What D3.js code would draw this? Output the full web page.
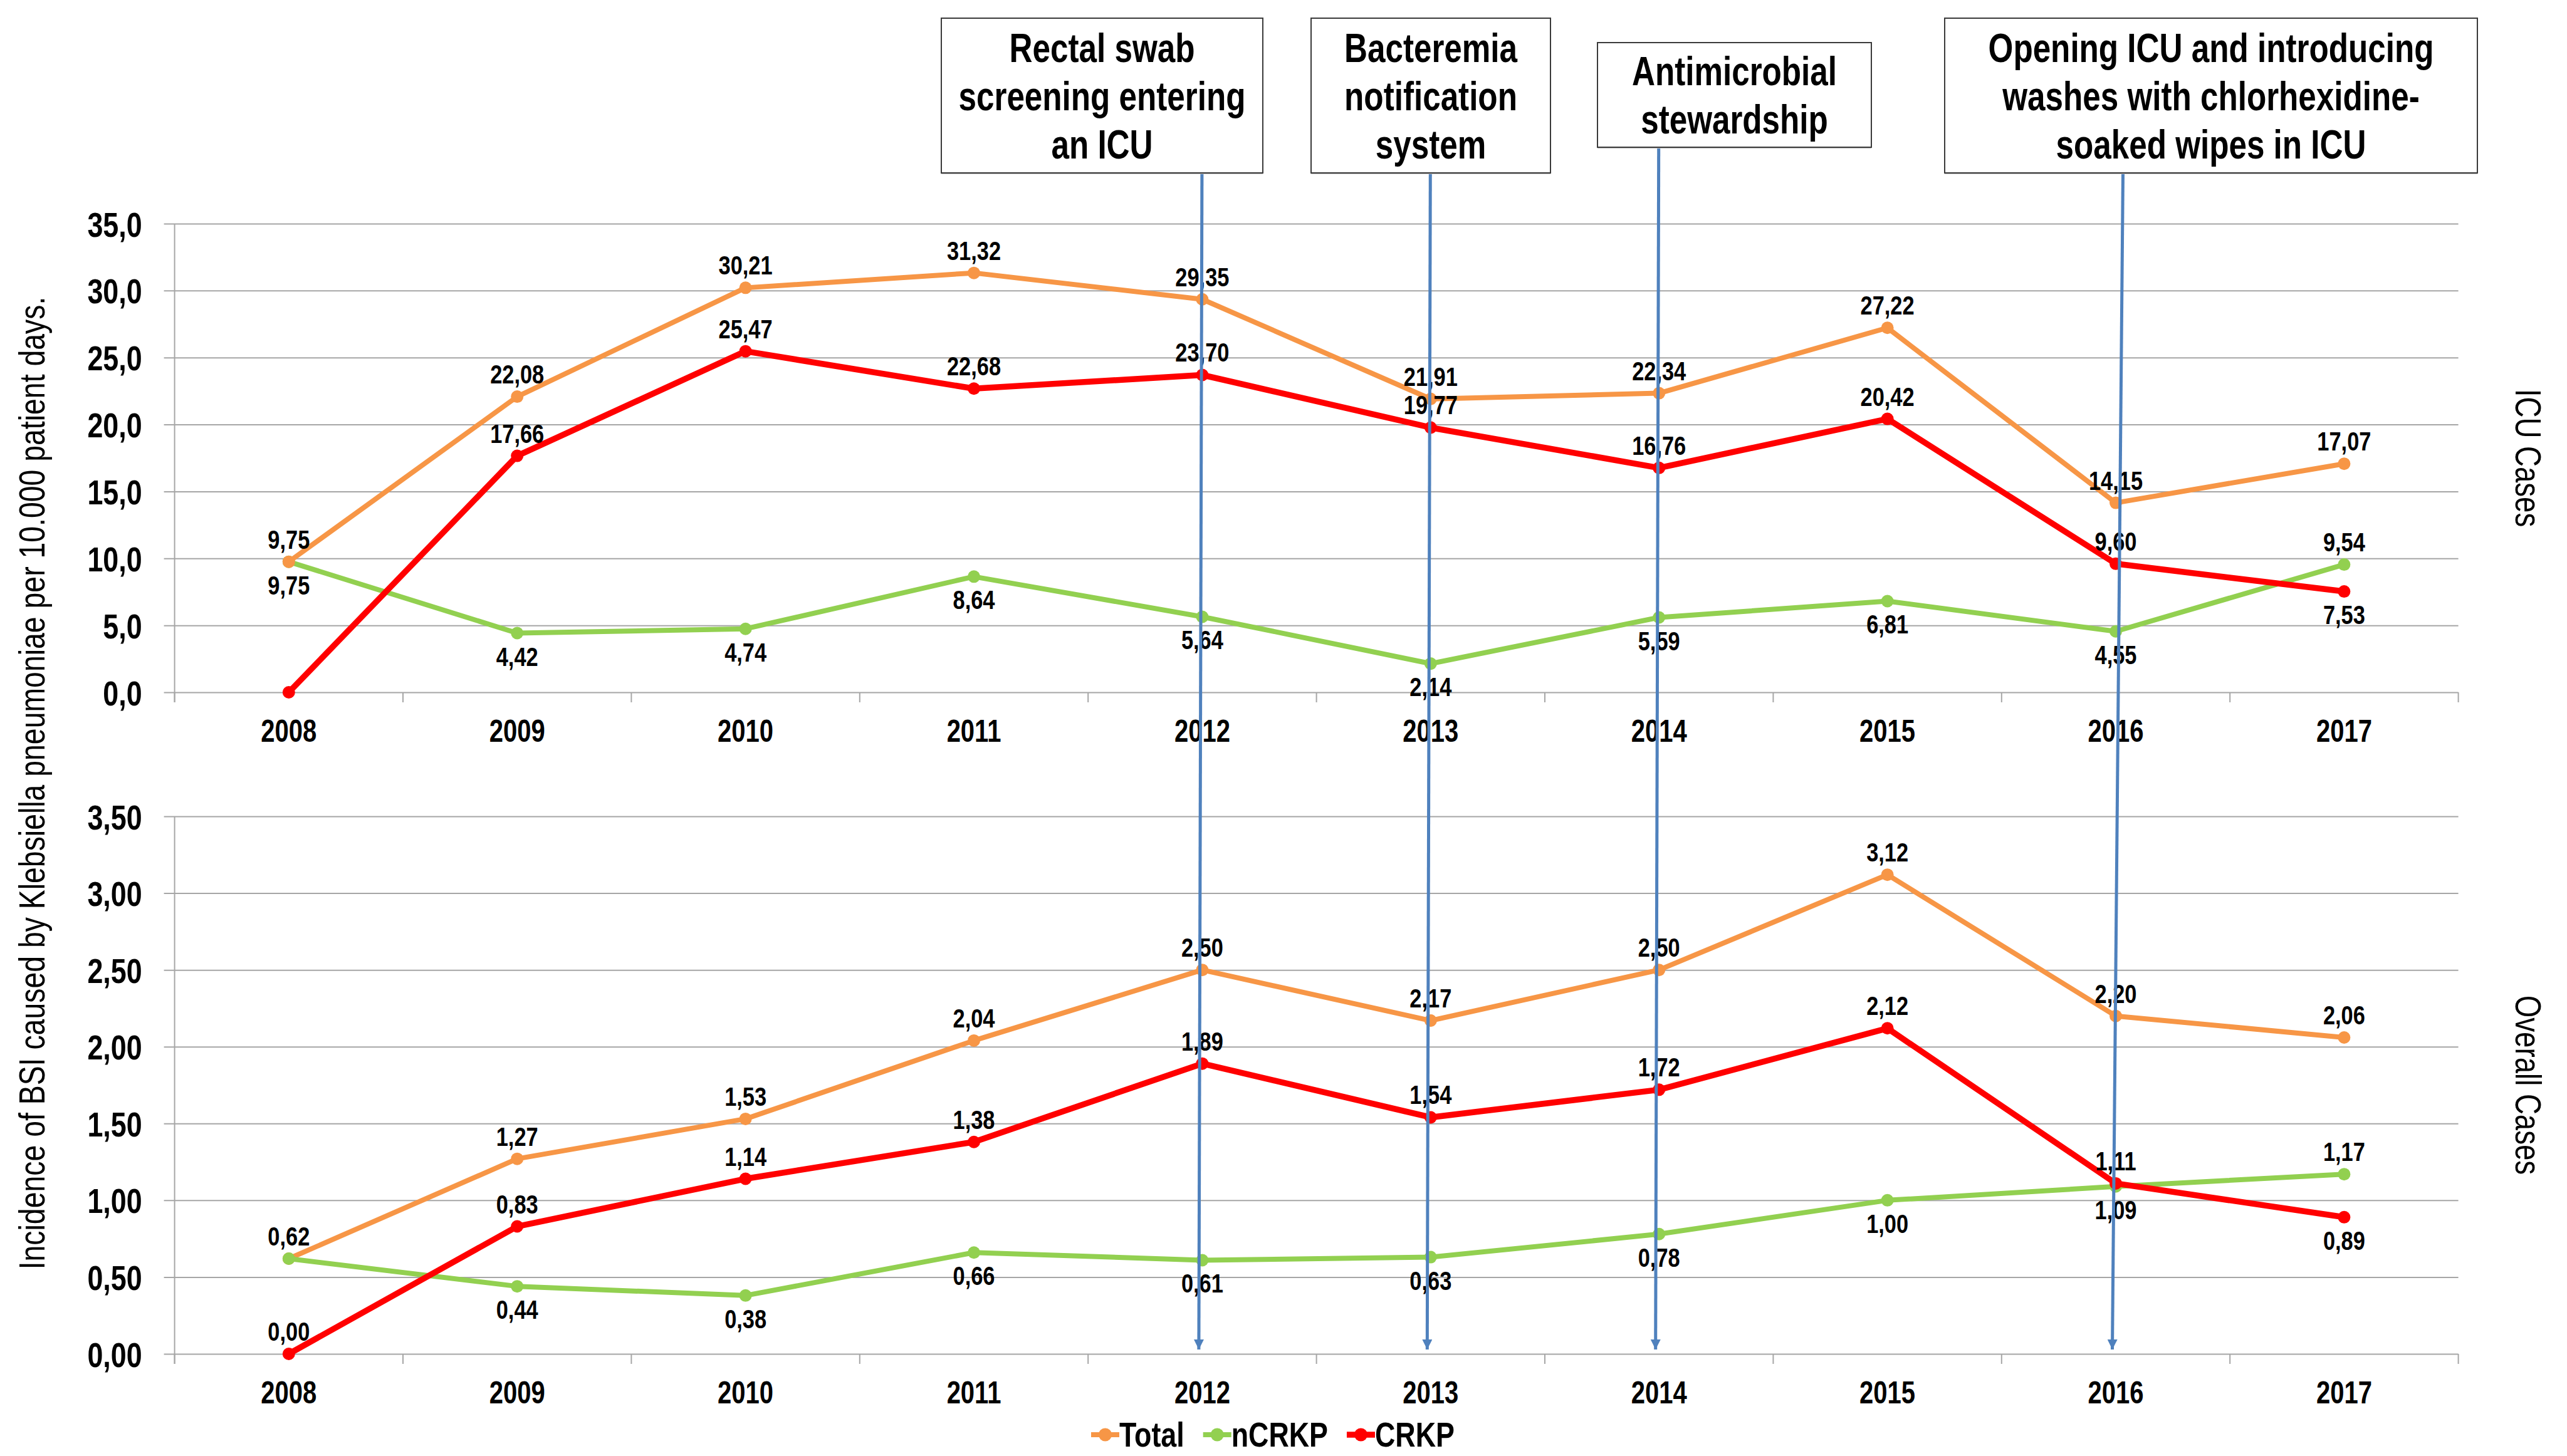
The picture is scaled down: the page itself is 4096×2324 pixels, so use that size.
<!DOCTYPE html>
<html>
<head>
<meta charset="utf-8">
<script src="https://cdn.jsdelivr.net/npm/d3@7"></script>
<style>
html,body{margin:0;padding:0;background:#fff;}
svg{display:block;}
</style>
</head>
<body>
<svg id="chart" width="4096" height="2324"></svg>
<script>
// ---------------- DATA ----------------
const years = ["2008","2009","2010","2011","2012","2013","2014","2015","2016","2017"];
const seriesNames = ["Total","nCRKP","CRKP"];

// ICU cases (per 10.000 patient days)
const icuTotal = [9.75,22.08,30.21,31.32,29.35,21.91,22.34,27.22,14.15,17.07];
const icuNCRKP = [9.75,4.42,4.74,8.64,5.64,2.14,5.59,6.81,4.55,9.54];
const icuCRKP  = [0.00,17.66,25.47,22.68,23.70,19.77,16.76,20.42,9.60,7.53];

// Overall cases
const allTotal = [0.62,1.27,1.53,2.04,2.50,2.17,2.50,3.12,2.20,2.06];
const allNCRKP = [0.62,0.44,0.38,0.66,0.61,0.63,0.78,1.00,1.09,1.17];
const allCRKP  = [0.00,0.83,1.14,1.38,1.89,1.54,1.72,2.12,1.11,0.89];

// data label placement: a = above, b = below, n = none
const icuLabelPos = {
  Total: ["a","a","a","a","a","a","a","a","a","a"],
  nCRKP: ["b","b","b","b","b","b","b","b","b","a"],
  CRKP:  ["n","a","a","a","a","a","a","a","a","b"]
};
const allLabelPos = {
  Total: ["a","a","a","a","a","a","a","a","a","a"],
  nCRKP: ["n","b","b","b","b","b","b","b","b","a"],
  CRKP:  ["a","a","a","a","a","a","a","a","a","b"]
};

const icuTicks = [0,5,10,15,20,25,30,35];
const allTicks = [0,0.5,1,1.5,2,2.5,3,3.5];

const interventions = [
  {year:"2012", lines:["Rectal swab","screening entering","an ICU"]},
  {year:"2013", lines:["Bacteremia","notification","system"]},
  {year:"2014", lines:["Antimicrobial","stewardship"]},
  {year:"2016", lines:["Opening ICU and introducing","washes with chlorhexidine-","soaked wipes in ICU"]}
];

const yTitle = "Incidence of BSI caused by Klebsiella pneumoniae per 10.000 patient days.";
const panelTitles = ["ICU Cases","Overall Cases"];

// ---------------- STYLE ----------------
const colors = {Total:"#F79646", nCRKP:"#92D050", CRKP:"#FF0000"};
const widths = {Total:8, nCRKP:8, CRKP:9.5};
const FONT = "'Liberation Sans', Arial, Helvetica, sans-serif";
const SX = 0.8;           // horizontal condensing of all text
const GRID = "#A6A6A6";
const ARROW = "#4F81BD";

const svg = d3.select("#chart");
svg.append("rect").attr("width",4096).attr("height",2324).attr("fill","#fff");

const left = 278.6, right = 3922.6;
const x = d3.scaleBand().domain(years).range([left, right]).paddingInner(0).paddingOuter(0);
const bw = x.bandwidth();
const cx = d => x(d) + bw/2;

function txt(g, px, py, s, o) {
  o = Object.assign({size:40, weight:"bold", anchor:"middle", rotate:0, fill:"#000"}, o||{});
  return g.append("text")
    .attr("transform", `translate(${px},${py}) rotate(${o.rotate}) scale(${SX},1)`)
    .attr("text-anchor", o.anchor)
    .attr("font-family", FONT)
    .attr("font-size", o.size)
    .attr("font-weight", o.weight)
    .attr("fill", o.fill)
    .text(s);
}

const fmt2 = v => d3.format(".2f")(v).replace(".", ",");

function panel(cfg) {
  const g = svg.append("g");
  const y = d3.scaleLinear().domain(cfg.domain).range([cfg.bottom, cfg.top]);
  const W = right - left;

  // gridlines + y ticks labels
  const ay = g.append("g").attr("transform", `translate(${left},0)`)
    .call(d3.axisLeft(y).tickValues(cfg.ticks).tickSizeInner(-W).tickSizeOuter(0).tickPadding(0)
      .tickFormat(v => d3.format(cfg.tickFmt)(v).replace(".", ",")));
  ay.select(".domain").remove();
  ay.selectAll(".tick line").attr("x1", -17).attr("stroke", GRID).attr("stroke-width", 2);
  ay.selectAll(".tick text")
    .attr("x", null).attr("dy", null)
    .attr("transform", `translate(-52,20) scale(${SX},1)`)
    .attr("text-anchor", "end")
    .attr("font-family", FONT).attr("font-size", 56).attr("font-weight", "bold").attr("fill", "#000");

  // y axis line
  g.append("line").attr("x1", left).attr("x2", left).attr("y1", cfg.top).attr("y2", cfg.bottom + 16)
    .attr("stroke", GRID).attr("stroke-width", 2);

  // x axis (category boundaries ticks, labels centered)
  const ax = g.append("g").attr("transform", `translate(0,${cfg.bottom})`)
    .call(d3.axisBottom(x).tickSizeInner(16).tickSizeOuter(0).tickPadding(0));
  ax.select(".domain").remove();
  ax.selectAll(".tick line").attr("x1", -bw/2).attr("x2", -bw/2).attr("stroke", GRID).attr("stroke-width", 2);
  ax.selectAll(".tick text")
    .attr("y", null).attr("dy", null)
    .attr("transform", `translate(0,79) scale(${SX},1)`)
    .attr("font-family", FONT).attr("font-size", 50).attr("font-weight", "bold").attr("fill", "#000");
  g.append("line").attr("x1", right).attr("x2", right).attr("y1", cfg.bottom).attr("y2", cfg.bottom + 16)
    .attr("stroke", GRID).attr("stroke-width", 2);

  // series
  const line = d3.line().x((d,i) => cx(years[i])).y(d => y(d));
  cfg.order.forEach(name => {
    const vals = cfg.data[name];
    g.append("path").datum(vals).attr("d", line).attr("fill", "none")
      .attr("stroke", colors[name]).attr("stroke-width", widths[name]).attr("stroke-linejoin", "round");
    g.selectAll(null).data(vals).enter().append("circle")
      .attr("cx", (d,i) => cx(years[i])).attr("cy", d => y(d)).attr("r", 10).attr("fill", colors[name]);
  });

  // data labels
  const lg = g.append("g");
  seriesNames.forEach(name => {
    cfg.data[name].forEach((v,i) => {
      const p = cfg.labels[name][i];
      if (p === "n") return;
      const py = p === "a" ? y(v) - 21 : y(v) + 52;
      txt(lg, cx(years[i]), py, fmt2(v), {size:43});
    });
  });

  // panel title on the right
  txt(g, 4014, (cfg.top + cfg.bottom)/2, cfg.title, {size:57, weight:"normal", rotate:90});
  return y;
}

panel({
  domain:[0,35], top:357, bottom:1105, ticks:icuTicks, tickFmt:".1f", title:panelTitles[0],
  data:{Total:icuTotal, nCRKP:icuNCRKP, CRKP:icuCRKP},
  labels:icuLabelPos, order:["nCRKP","Total","CRKP"]
});
panel({
  domain:[0,3.5], top:1303, bottom:2161, ticks:allTicks, tickFmt:".2f", title:panelTitles[1],
  data:{Total:allTotal, nCRKP:allNCRKP, CRKP:allCRKP},
  labels:allLabelPos, order:["Total","nCRKP","CRKP"]
});

// y title
txt(svg, 71, 1250, yTitle, {size:58, weight:"normal", rotate:-90});

// ---------------- ANNOTATIONS ----------------
const defs = svg.append("defs");
defs.append("marker").attr("id","arr").attr("viewBox","0 0 10 10").attr("refX",10).attr("refY",5)
  .attr("markerWidth",3.2).attr("markerHeight",3.2).attr("markerUnits","strokeWidth").attr("orient","auto")
  .append("path").attr("d","M0,0 L10,5 L0,10 Z").attr("fill", ARROW);

const boxes = [
  {x0:1502, x1:2015, y0:29, y1:276, dx:0},
  {x0:2092, x1:2474, y0:29, y1:276, dx:0},
  {x0:2549, x1:2986, y0:68, y1:235, dx:0},
  {x0:3103, x1:3953, y0:29, y1:276, dx:12}
];
const ag = svg.append("g");
interventions.forEach((iv, k) => {
  const b = boxes[k];
  const xc = cx(iv.year) - 0.5;
  ag.append("line").attr("x1", xc + b.dx).attr("y1", b.y1).attr("x2", xc - 5).attr("y2", 2154)
    .attr("stroke", ARROW).attr("stroke-width", 5).attr("marker-end", "url(#arr)");
  ag.append("rect").attr("x", b.x0).attr("y", b.y0 + 2).attr("width", b.x1 - b.x0).attr("height", b.y1 - b.y0)
    .attr("fill", "#bfbfbf");
  ag.append("rect").attr("x", b.x0).attr("y", b.y0).attr("width", b.x1 - b.x0).attr("height", b.y1 - b.y0)
    .attr("fill", "#fff").attr("stroke", "#3a3a3a").attr("stroke-width", 2);
  const mid = (b.x0 + b.x1)/2;
  const n = iv.lines.length;
  const midY = (b.y0 + b.y1)/2;
  iv.lines.forEach((s, j) => {
    const by = midY + (j - (n-1)/2) * 77 + 23;
    txt(ag, mid, by, s, {size:64});
  });
});

// ---------------- LEGEND ----------------
const leg = svg.append("g");
let lx = 1741;
const legY = 2290, legBase = 2309;
seriesNames.forEach(name => {
  leg.append("line").attr("x1", lx).attr("x2", lx + 45).attr("y1", legY).attr("y2", legY)
    .attr("stroke", colors[name]).attr("stroke-width", widths[name]);
  leg.append("circle").attr("cx", lx + 22.5).attr("cy", legY).attr("r", 10.5).attr("fill", colors[name]);
  const t = txt(leg, lx + 45, legBase, name, {size:56, anchor:"start"});
  const w = t.node().getComputedTextLength() * SX;
  lx = lx + 45 + w + 30;
});
</script>
</body>
</html>
